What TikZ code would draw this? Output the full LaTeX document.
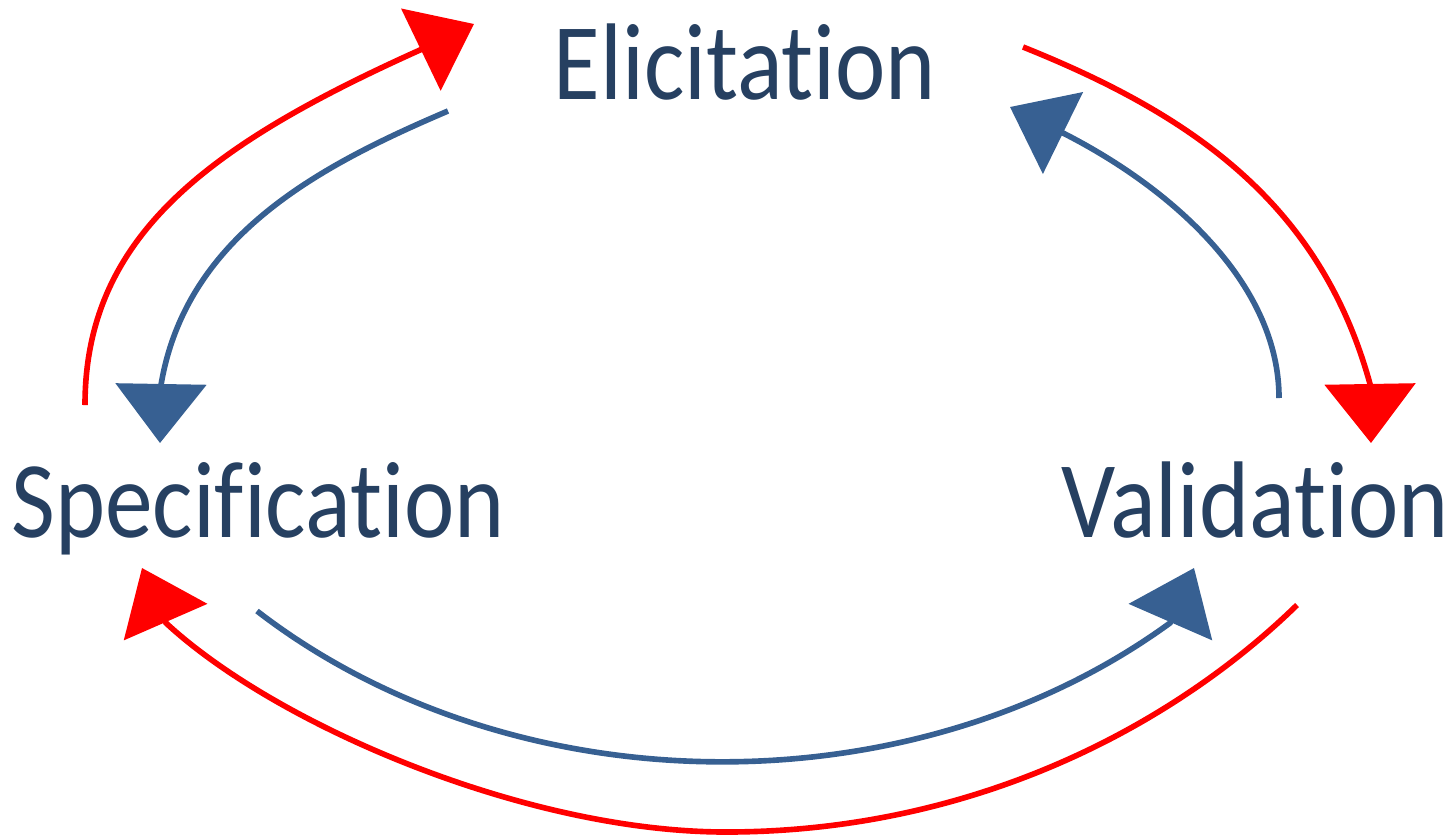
\documentclass[tikz,border=0pt]{standalone}
\usepackage{fontspec}
\usepackage{tikz}
\usetikzlibrary{arrows.meta}
\newfontfamily\phasefont[FakeStretch=0.875,Ligatures=NoCommon]{Carlito}
\definecolor{textblue}{RGB}{38,64,97}
\definecolor{arcblue}{RGB}{55,96,146}
\definecolor{arcred}{RGB}{255,0,0}
\tikzset{phase/.style={inner sep=0pt,anchor=base,text=textblue,
   font=\phasefont\fontsize{31}{31}\selectfont},
 arrowline/.style={line width=1.6pt,-{Triangle[length=0.59cm,width=0.9cm]}},
 redarc/.style={arrowline,color=arcred},
 bluearc/.style={arrowline,color=arcblue},
 }

\begin{document}
\begin{tikzpicture}[x=0.01cm,y=-0.01cm]
        \useasboundingbox (0,0) rectangle (1455,836);
        \node[phase] (elic) at (745,99) {Elicitation};
        \node[phase] (spec) at (258,537) {Specification};
        \node[phase] (vali) at (1255,537) {Validation};
        \coordinate (spec-out-t) at (85,405);
        \coordinate (spec-in-t) at (161,385);
        \coordinate (spec-tip-t) at (160,443);
        \coordinate (spec-out-b) at (257,611);
        \coordinate (spec-in-b) at (166,623);
        \coordinate (spec-tip-b) at (142,568);
        \coordinate (elic-in-l) at (420,50);
        \coordinate (elic-tip-l) at (474,24);
        \coordinate (elic-out-l) at (448,111);
        \coordinate (elic-out-r) at (1023,47);
        \coordinate (elic-in-r) at (1063,133);
        \coordinate (elic-tip-r) at (1010,107);
        \coordinate (vali-in-t) at (1370,384);
        \coordinate (vali-tip-t) at (1371,443);
        \coordinate (vali-out-t) at (1279,398);
        \coordinate (vali-in-b) at (1170,623);
        \coordinate (vali-tip-b) at (1194,568);
        \coordinate (vali-out-b) at (1297,605);
        \coordinate (bottom) at (726,832);
        \draw[redarc] (spec-out-t) .. controls (85,235) and (211,144) .. (elic-in-l) -- (elic-tip-l);
        \draw[bluearc] (elic-out-l) .. controls (319,166) and (186,236) .. (spec-in-t) -- (spec-tip-t);
        \draw[redarc] (elic-out-r) .. controls (1190,114) and (1320,202) .. (vali-in-t) -- (vali-tip-t);
        \draw[bluearc] (vali-out-t) .. controls (1279,288) and (1179,192) .. (elic-in-r) -- (elic-tip-r);
        \draw[bluearc] (spec-out-b) .. controls (511,807) and (909,813) .. (vali-in-b) -- (vali-tip-b);
        \draw[redarc] (vali-out-b) .. controls (1175,724) and (976,832) .. (bottom)
            .. controls (526,832) and (276,725) .. (spec-in-b) -- (spec-tip-b);
    \end{tikzpicture}
\end{document}
